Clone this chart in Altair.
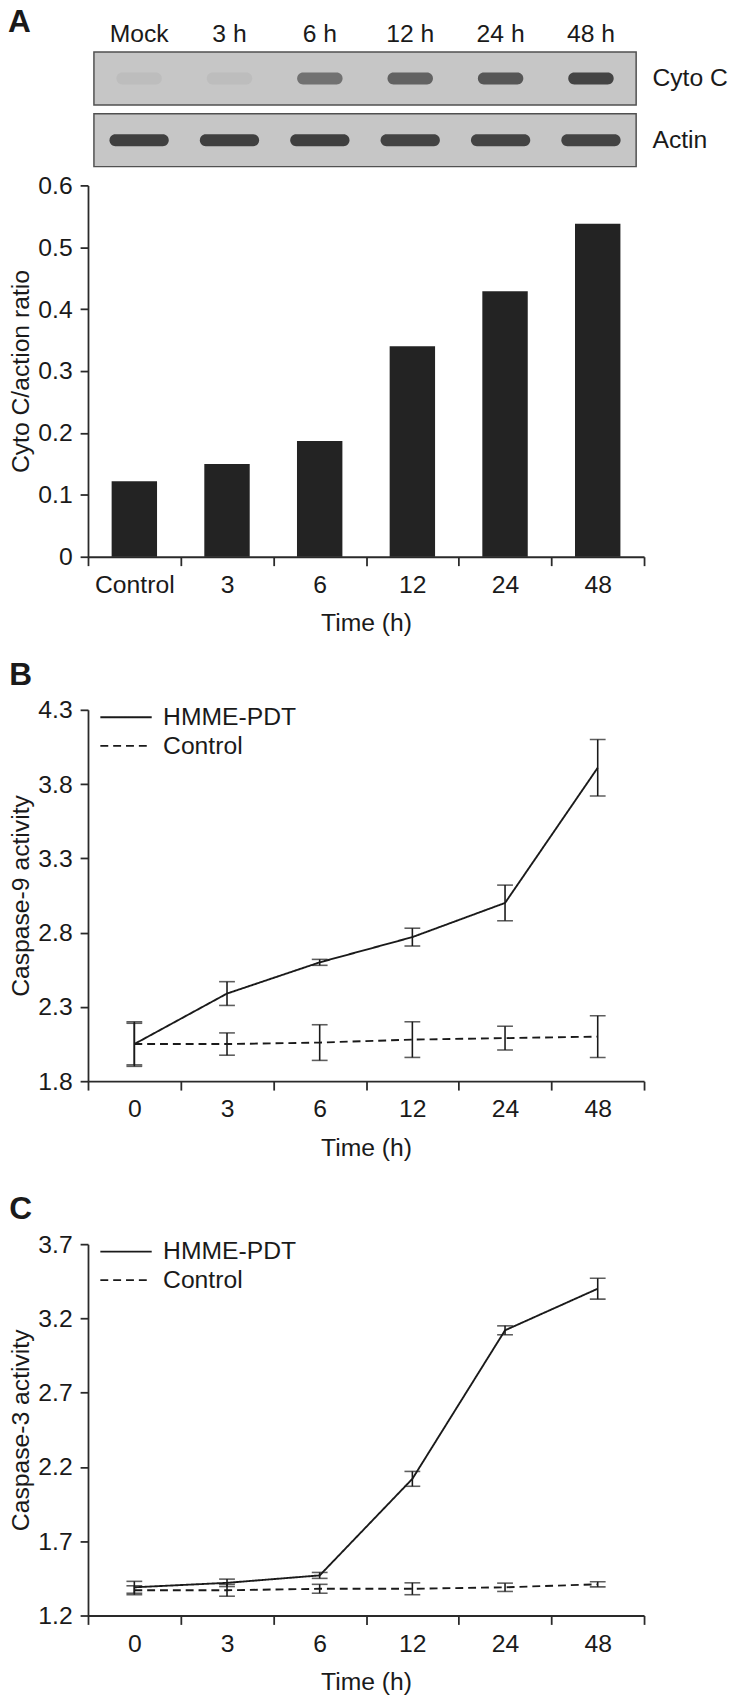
import altair as alt
import pandas as pd

FONT = "Liberation Sans"
INK = "#1a1a1a"

# ---------------- data ----------------
lanes = ["Mock", "3 h", "6 h", "12 h", "24 h", "48 h"]
blot_rows = ["Cyto C", "Actin"]
cyto_intensity = [0.06, 0.06, 0.6, 0.72, 0.82, 0.97]
actin_intensity = [1.0, 1.0, 1.0, 0.98, 0.98, 0.98]

bar_categories = ["Control", "3", "6", "12", "24", "48"]
cyto_actin_ratio = [0.122, 0.150, 0.187, 0.340, 0.429, 0.538]
ratio_ticks = [0, 0.1, 0.2, 0.3, 0.4, 0.5, 0.6]

times = ["0", "3", "6", "12", "24", "48"]
series_names = ["HMME-PDT", "Control"]

casp9_hmme = [2.05, 2.39, 2.60, 2.77, 3.00, 3.91]
casp9_hmme_err = [0.14, 0.08, 0.02, 0.06, 0.12, 0.19]
casp9_ctrl = [2.05, 2.05, 2.06, 2.08, 2.09, 2.10]
casp9_ctrl_err = [0.15, 0.075, 0.12, 0.12, 0.08, 0.14]
casp9_ticks = [1.8, 2.3, 2.8, 3.3, 3.8, 4.3]

casp3_hmme = [1.39, 1.42, 1.47, 2.12, 3.12, 3.40]
casp3_hmme_err = [0.04, 0.025, 0.02, 0.05, 0.03, 0.07]
casp3_ctrl = [1.37, 1.37, 1.38, 1.38, 1.39, 1.41]
casp3_ctrl_err = [0.03, 0.04, 0.03, 0.04, 0.028, 0.017]
casp3_ticks = [1.2, 1.7, 2.2, 2.7, 3.2, 3.7]

panel_a = ["A"]

W, H = 563, 376


def x_axis(title):
    return alt.Axis(title=title, labelAngle=0, tickBand="extent", tickSize=9,
                    labelPadding=7, titlePadding=14)


def y_axis(title, values, fmt):
    return alt.Axis(title=title, values=values, format=fmt, tickSize=8,
                    labelPadding=8, titlePadding=4)


def letter(txt, frame="bounds", dx=0, offset=6):
    return alt.TitleParams(txt, anchor="start", frame=frame, dx=dx, offset=offset,
                           fontSize=32, fontWeight="bold", font=FONT, color=INK)


# ---------------- blot (panel A top) ----------------
box_df = pd.DataFrame({"row": blot_rows})
band_df = pd.DataFrame({
    "lane": lanes * 2,
    "row": ["Cyto C"] * 6 + ["Actin"] * 6,
    "intensity": cyto_intensity + actin_intensity,
})
row_scale = alt.Scale(domain=blot_rows, paddingInner=0.144, paddingOuter=0)
lane_scale = alt.Scale(domain=lanes, range=[6, 555], paddingInner=0, paddingOuter=0)
row_axis = alt.Axis(orient="right", title=None, ticks=False, domain=False,
                    labelPadding=8, labelAngle=0)
lane_axis = alt.Axis(orient="top", title=None, ticks=False, domain=False,
                     labelPadding=6, labelAngle=0)
int_color = alt.Color("intensity:Q",
                      scale=alt.Scale(domain=[0, 1], range=["#c6c6c6", "#050505"]),
                      legend=None)

box = alt.Chart(box_df).mark_rect(fill="#c6c6c6", stroke="#505050", strokeWidth=1.5).encode(
    y=alt.Y("row:N", scale=row_scale, axis=row_axis),
    x=alt.value(6), x2=alt.value(555),
)
cyto_bands = alt.Chart(band_df).transform_filter(alt.datum.row == "Cyto C").mark_tick(
    orient="horizontal", size=46, thickness=12, cornerRadius=6
).encode(
    x=alt.X("lane:N", scale=lane_scale, axis=lane_axis),
    y=alt.Y("row:N", scale=row_scale, axis=row_axis),
    color=int_color,
)
actin_bands = alt.Chart(band_df).transform_filter(alt.datum.row == "Actin").mark_tick(
    orient="horizontal", size=60, thickness=12, cornerRadius=6
).encode(
    x=alt.X("lane:N", scale=lane_scale, axis=lane_axis),
    y=alt.Y("row:N", scale=row_scale, axis=row_axis),
    color=int_color,
)
label_a = alt.Chart(pd.DataFrame({"panel": panel_a})).mark_text(
    font=FONT, fontSize=32, fontWeight="bold", color=INK, align="left", baseline="top"
).encode(text="panel:N", x=alt.value(-81), y=alt.value(-45))

blot = alt.layer(box, cyto_bands, actin_bands, label_a).properties(width=W, height=116)

# ---------------- bar chart (panel A) ----------------
dfA = pd.DataFrame({"cat": bar_categories, "ratio": cyto_actin_ratio})
barA = alt.Chart(dfA).mark_bar(color="#232323", width=alt.RelativeBandSize(0.49)).encode(
    x=alt.X("cat:N", sort=bar_categories, scale=alt.Scale(paddingInner=0, paddingOuter=0),
            axis=x_axis("Time (h)")),
    y=alt.Y("ratio:Q", scale=alt.Scale(domain=[0, 0.6], nice=False),
            axis=y_axis("Cyto C/action ratio", ratio_ticks, "~f")),
).properties(width=W, height=H)


# ---------------- line panels (B, C) ----------------
def line_panel(hmme, hmme_err, ctrl, ctrl_err, ticks, ytitle, let, leg_y):
    df = pd.DataFrame({
        "time": times * 2,
        "series": [series_names[0]] * 6 + [series_names[1]] * 6,
        "value": hmme + ctrl,
        "err": hmme_err + ctrl_err,
    })
    base = alt.Chart(df).transform_calculate(
        lo="datum.value - datum.err", hi="datum.value + datum.err"
    )
    xs = alt.X("time:N", sort=times, scale=alt.Scale(paddingInner=0, paddingOuter=0),
               axis=x_axis("Time (h)"))
    ysc = alt.Scale(domain=[ticks[0], ticks[-1]], nice=False, zero=False)
    yax = y_axis(ytitle, ticks, ".1f")
    line = base.mark_line(color=INK, strokeWidth=1.9).encode(
        x=xs,
        y=alt.Y("value:Q", scale=ysc, axis=yax),
        strokeDash=alt.StrokeDash(
            "series:N",
            scale=alt.Scale(domain=series_names, range=[[1, 0], [8, 5]]),
            legend=alt.Legend(
                orient="none", legendX=26, legendY=leg_y, title=None,
                symbolType="M-5.2,0H5.2", symbolSize=100, symbolStrokeWidth=1.8,
                symbolStrokeColor=INK, labelFontSize=25, labelFont=FONT,
                labelColor=INK, labelOffset=25, rowPadding=3, labelLimit=0,
                padding=0,
            ),
        ),
    )
    rule = base.mark_rule(color=INK, strokeWidth=1.6).encode(
        x=xs, y=alt.Y("lo:Q", scale=ysc, axis=yax), y2="hi:Q"
    )
    cap_lo = base.mark_tick(orient="horizontal", size=16, thickness=1.6, color=INK).encode(
        x=xs, y=alt.Y("lo:Q", scale=ysc, axis=yax)
    )
    cap_hi = base.mark_tick(orient="horizontal", size=16, thickness=1.6, color=INK).encode(
        x=xs, y=alt.Y("hi:Q", scale=ysc, axis=yax)
    )
    return alt.layer(line, rule, cap_lo, cap_hi).properties(
        width=W, height=H, title=letter(let, offset=6)
    )


chartB = line_panel(casp9_hmme, casp9_hmme_err, casp9_ctrl, casp9_ctrl_err,
                    casp9_ticks, "Caspase-9 activity", "B", -5)
chartC = line_panel(casp3_hmme, casp3_hmme_err, casp3_ctrl, casp3_ctrl_err,
                    casp3_ticks, "Caspase-3 activity", "C", -5)

top = alt.vconcat(blot, barA, spacing=6)
bottom = alt.vconcat(chartB, chartC, spacing=34).resolve_scale(
    strokeDash="independent").resolve_legend(strokeDash="independent")

chart = alt.vconcat(top, bottom, spacing=24).resolve_scale(
    strokeDash="independent").resolve_legend(strokeDash="independent").properties(
    padding={"left": 0, "top": -12, "right": 0, "bottom": 0}).configure(
    font=FONT
).configure_view(stroke=None).configure_axis(
    labelFont=FONT, labelFontSize=25, labelColor=INK,
    titleFont=FONT, titleFontSize=25, titleFontWeight="normal", titleColor=INK,
    domainColor="#2a2a2a", tickColor="#2a2a2a", domainWidth=1.8, tickWidth=1.8,
    grid=False,
)

chart.save("out.html", embed_options={"renderer": "svg", "actions": False})
